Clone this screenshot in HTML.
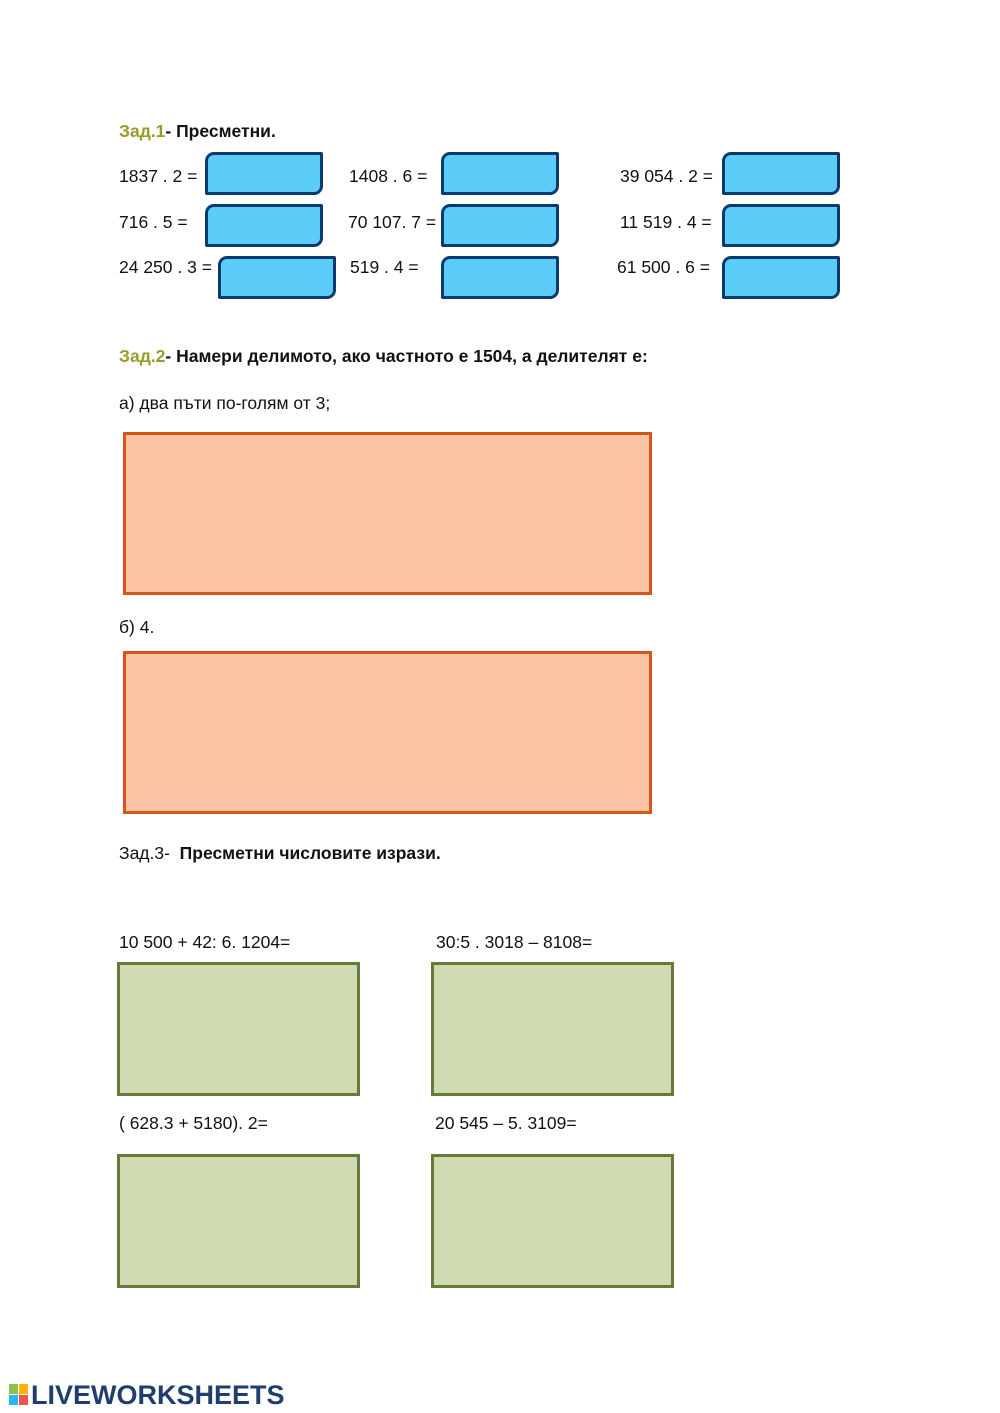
<!DOCTYPE html>
<html><head><meta charset="utf-8"><style>
body{margin:0;background:#fff;}
#p{position:relative;width:1000px;height:1413px;overflow:hidden;font-family:"Liberation Sans",sans-serif;color:#111;}
.t{position:absolute;font-size:17.5px;white-space:nowrap;line-height:20px;}
.b{font-weight:bold;}
.g{color:#9a9a2a;}
.bx{position:absolute;box-sizing:border-box;width:118px;height:43px;background:#5bcdf8;border:3px solid #0d3a6e;border-radius:9px 2px 9px 2px;}
.o{position:absolute;box-sizing:border-box;left:123px;width:529px;height:163px;background:#fbc3a4;border:3px solid #d4561a;}
.gr{position:absolute;box-sizing:border-box;width:243px;height:134px;background:#cfdab3;border:3px solid #647b3a;}
</style></head><body><div id="p">
<div class="t b" style="left:119px;top:121px"><span class="g">Зад.1</span>- Пресметни.</div>
<div class="t" style="left:119px;top:166px">1837 . 2 =</div>
<div class="t" style="left:349px;top:166px">1408 . 6 =</div>
<div class="t" style="left:620px;top:166px">39 054 . 2 =</div>
<div class="t" style="left:119px;top:212px">716 . 5 =</div>
<div class="t" style="left:348px;top:212px">70 107. 7 =</div>
<div class="t" style="left:620px;top:212px">11 519 . 4 =</div>
<div class="t" style="left:119px;top:257px">24 250 . 3 =</div>
<div class="t" style="left:350px;top:257px">519 . 4 =</div>
<div class="t" style="left:617px;top:257px">61 500 . 6 =</div>
<div class="bx" style="left:205px;top:152px"></div>
<div class="bx" style="left:441px;top:152px"></div>
<div class="bx" style="left:722px;top:152px"></div>
<div class="bx" style="left:205px;top:204px"></div>
<div class="bx" style="left:441px;top:204px"></div>
<div class="bx" style="left:722px;top:204px"></div>
<div class="bx" style="left:218px;top:256px"></div>
<div class="bx" style="left:441px;top:256px"></div>
<div class="bx" style="left:722px;top:256px"></div>
<div class="t b" style="left:119px;top:346px"><span class="g">Зад.2</span>- Намери делимото, ако частното е 1504, а делителят е:</div>
<div class="t" style="left:119px;top:393px">а) два пъти по-голям от 3;</div>
<div class="o" style="top:432px"></div>
<div class="t" style="left:119px;top:617px">б) 4.</div>
<div class="o" style="top:651px"></div>
<div class="t" style="left:119px;top:843px">Зад.3- &nbsp;<b>Пресметни числовите изрази.</b></div>
<div class="t" style="left:119px;top:932px">10 500 + 42: 6. 1204=</div>
<div class="t" style="left:436px;top:932px">30:5 . 3018 – 8108=</div>
<div class="gr" style="left:117px;top:962px"></div>
<div class="gr" style="left:431px;top:962px"></div>
<div class="t" style="left:119px;top:1113px">( 628.3 + 5180). 2=</div>
<div class="t" style="left:435px;top:1113px">20 545 – 5. 3109=</div>
<div class="gr" style="left:117px;top:1154px"></div>
<div class="gr" style="left:431px;top:1154px"></div>
<div style="position:absolute;left:9px;top:1384px;width:20px;height:22px;">
<div style="position:absolute;left:0;top:0;width:9px;height:10px;background:#8bc34a"></div>
<div style="position:absolute;left:10px;top:0;width:9px;height:10px;background:#ffb300"></div>
<div style="position:absolute;left:0;top:11px;width:9px;height:10px;background:#29b6f6"></div>
<div style="position:absolute;left:10px;top:11px;width:9px;height:10px;background:#ef5350"></div>
</div>
<div style="position:absolute;left:31px;top:1380px;font-size:27px;font-weight:bold;color:#1f3d6e;white-space:nowrap;line-height:30px;">LIVEWORKSHEETS</div>
</div></body></html>
